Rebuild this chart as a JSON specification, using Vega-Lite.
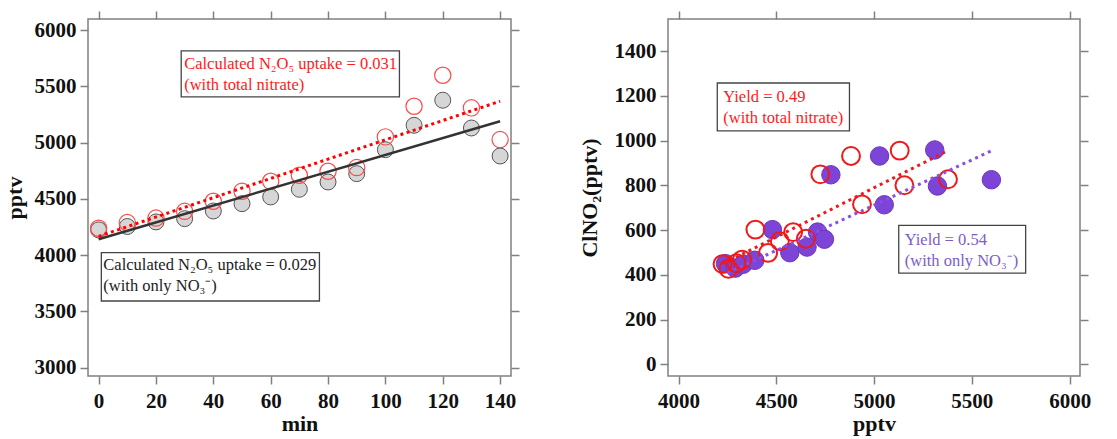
{
  "$schema": "https://vega.github.io/schema/vega-lite/v6.json",
  "background": "white",
  "padding": {"left": 2, "top": 9, "right": 0, "bottom": 2},
  "bounds": "flush",
  "spacing": 157,
  "config": {
    "font": "Liberation Serif",
    "view": {"stroke": "#808080", "strokeWidth": 1.5},
    "axis": {
      "grid": false, "domain": false, "format": "d",
      "tickColor": "#808080", "tickWidth": 1.5, "tickSize": 8,
      "labelFont": "Liberation Serif", "labelFontWeight": "bold", "labelFontSize": 21, "labelColor": "#111111",
      "titleFont": "Liberation Serif", "titleFontWeight": "bold", "titleFontSize": 22, "titleColor": "#111111"
    }
  },
  "datasets": {
    "left_no3": [
      {"min": 0, "pptv": 4225}, {"min": 10, "pptv": 4255}, {"min": 20, "pptv": 4296}, {"min": 30, "pptv": 4325},
      {"min": 40, "pptv": 4393}, {"min": 50, "pptv": 4458}, {"min": 60, "pptv": 4518}, {"min": 70, "pptv": 4586},
      {"min": 80, "pptv": 4651}, {"min": 90, "pptv": 4725}, {"min": 100, "pptv": 4938}, {"min": 110, "pptv": 5155},
      {"min": 120, "pptv": 5378}, {"min": 130, "pptv": 5131}, {"min": 140, "pptv": 4882}
    ],
    "left_total": [
      {"min": 0, "pptv": 4240}, {"min": 10, "pptv": 4290}, {"min": 20, "pptv": 4330}, {"min": 30, "pptv": 4390},
      {"min": 40, "pptv": 4480}, {"min": 50, "pptv": 4569}, {"min": 60, "pptv": 4657}, {"min": 70, "pptv": 4711},
      {"min": 80, "pptv": 4746}, {"min": 90, "pptv": 4779}, {"min": 100, "pptv": 5052}, {"min": 110, "pptv": 5324},
      {"min": 120, "pptv": 5600}, {"min": 130, "pptv": 5310}, {"min": 140, "pptv": 5028}
    ],
    "left_fit_no3": [{"min": 0, "pptv": 4142}, {"min": 140, "pptv": 5191}],
    "left_fit_total": [{"min": 0, "pptv": 4168}, {"min": 140, "pptv": 5369}],
    "right_no3": [
      {"n2o5": 4240, "clno2": 450}, {"n2o5": 4290, "clno2": 430}, {"n2o5": 4330, "clno2": 447}, {"n2o5": 4390, "clno2": 465},
      {"n2o5": 4480, "clno2": 602}, {"n2o5": 4569, "clno2": 499}, {"n2o5": 4657, "clno2": 524}, {"n2o5": 4711, "clno2": 591},
      {"n2o5": 4746, "clno2": 559}, {"n2o5": 4779, "clno2": 847}, {"n2o5": 5028, "clno2": 931}, {"n2o5": 5052, "clno2": 713},
      {"n2o5": 5310, "clno2": 958}, {"n2o5": 5324, "clno2": 797}, {"n2o5": 5600, "clno2": 825}
    ],
    "right_total": [
      {"n2o5": 4225, "clno2": 448}, {"n2o5": 4255, "clno2": 427}, {"n2o5": 4296, "clno2": 452}, {"n2o5": 4325, "clno2": 468},
      {"n2o5": 4393, "clno2": 602}, {"n2o5": 4458, "clno2": 498}, {"n2o5": 4518, "clno2": 550}, {"n2o5": 4586, "clno2": 591},
      {"n2o5": 4651, "clno2": 561}, {"n2o5": 4725, "clno2": 849}, {"n2o5": 4882, "clno2": 931}, {"n2o5": 4938, "clno2": 715},
      {"n2o5": 5131, "clno2": 955}, {"n2o5": 5155, "clno2": 800}, {"n2o5": 5378, "clno2": 827}
    ],
    "right_fit_total": [{"n2o5": 4230, "clno2": 450}, {"n2o5": 5370, "clno2": 952}],
    "right_fit_no3": [{"n2o5": 4250, "clno2": 408}, {"n2o5": 5605, "clno2": 956}]
  },
  "hconcat": [
    {
      "width": 423,
      "height": 357,
      "layer": [
        {
          "data": {"name": "left_no3"},
          "mark": {"type": "point", "shape": "circle", "filled": true, "fill": "#d6d6d6", "stroke": "#555555", "strokeWidth": 1, "size": 255, "opacity": 1},
          "encoding": {
            "x": {"field": "min", "type": "quantitative", "scale": {"domain": [-3.7, 143.8], "nice": false, "zero": false},
                  "axis": {"orient": "bottom", "values": [0, 20, 40, 60, 80, 100, 120, 140], "title": "min", "labelPadding": 6, "titlePadding": 2}},
            "y": {"field": "pptv", "type": "quantitative", "scale": {"domain": [2926, 6100], "nice": false, "zero": false},
                  "axis": {"orient": "left", "values": [3000, 3500, 4000, 4500, 5000, 5500, 6000], "title": "pptv", "labelPadding": 4, "titlePadding": 8}}
          }
        },
        {
          "data": {"name": "left_total"},
          "mark": {"type": "point", "shape": "circle", "filled": false, "stroke": "#ff4a4a", "strokeWidth": 1.2, "size": 265, "opacity": 1},
          "encoding": {
            "x": {"field": "min", "type": "quantitative", "axis": {"orient": "top", "values": [0, 20, 40, 60, 80, 100, 120, 140], "labels": false, "title": null}},
            "y": {"field": "pptv", "type": "quantitative", "axis": {"orient": "right", "values": [3000, 3500, 4000, 4500, 5000, 5500, 6000], "labels": false, "title": null}}
          }
        },
        {
          "data": {"name": "left_fit_no3"},
          "mark": {"type": "line", "color": "#333333", "strokeWidth": 2.5},
          "encoding": {
            "x": {"field": "min", "type": "quantitative", "axis": null},
            "y": {"field": "pptv", "type": "quantitative", "axis": null}
          }
        },
        {
          "data": {"name": "left_fit_total"},
          "mark": {"type": "line", "color": "#ff0000", "strokeWidth": 3, "strokeDash": [3, 3.5]},
          "encoding": {
            "x": {"field": "min", "type": "quantitative", "axis": null},
            "y": {"field": "pptv", "type": "quantitative", "axis": null}
          }
        },
        {
          "data": {"values": [{}]},
          "mark": {"type": "rect", "fill": "white", "stroke": "#444444", "strokeWidth": 1.3},
          "encoding": {
            "x": {"datum": 28.8, "type": "quantitative", "axis": null}, "x2": {"datum": 104.9},
            "y": {"datum": 5816, "type": "quantitative", "axis": null}, "y2": {"datum": 5407}
          }
        },
        {
          "data": {"values": [{}]},
          "mark": {"type": "text", "align": "left", "baseline": "alphabetic", "fontSize": 16.5, "lineHeight": 21, "color": "#ff1a1a", "dx": 3},
          "encoding": {
            "x": {"datum": 28.8, "type": "quantitative", "axis": null},
            "y": {"datum": 5659, "type": "quantitative", "axis": null},
            "text": {"value": ["Calculated N₂O₅ uptake = 0.031", "(with total nitrate)"]}
          }
        },
        {
          "data": {"values": [{}]},
          "mark": {"type": "rect", "fill": "white", "stroke": "#444444", "strokeWidth": 1.3},
          "encoding": {
            "x": {"datum": 0.95, "type": "quantitative", "axis": null}, "x2": {"datum": 77},
            "y": {"datum": 4023, "type": "quantitative", "axis": null}, "y2": {"datum": 3593}
          }
        },
        {
          "data": {"values": [{}]},
          "mark": {"type": "text", "align": "left", "baseline": "alphabetic", "fontSize": 16.5, "lineHeight": 21, "color": "#222222", "dx": 2},
          "encoding": {
            "x": {"datum": 0.95, "type": "quantitative", "axis": null},
            "y": {"datum": 3866, "type": "quantitative", "axis": null},
            "text": {"value": ["Calculated N₂O₅ uptake = 0.029", "(with only NO₃⁻)"]}
          }
        }
      ],
      "resolve": {"axis": {"x": "independent", "y": "independent"}}
    },
    {
      "width": 412,
      "height": 357,
      "layer": [
        {
          "data": {"name": "right_no3"},
          "mark": {"type": "point", "shape": "circle", "filled": true, "fill": "#7d44d8", "stroke": "#6a36bf", "strokeWidth": 1, "size": 340, "opacity": 1},
          "encoding": {
            "x": {"field": "n2o5", "type": "quantitative", "scale": {"domain": [3946, 6053], "nice": false, "zero": false},
                  "axis": {"orient": "bottom", "values": [4000, 4500, 5000, 5500, 6000], "title": "pptv", "labelPadding": 6, "titlePadding": 2}},
            "y": {"field": "clno2", "type": "quantitative", "scale": {"domain": [-52, 1543], "nice": false, "zero": false},
                  "axis": {"orient": "left", "values": [0, 200, 400, 600, 800, 1000, 1200, 1400], "title": "ClNO₂(pptv)", "labelPadding": 4, "titlePadding": 13}}
          }
        },
        {
          "data": {"name": "right_total"},
          "mark": {"type": "point", "shape": "circle", "filled": false, "stroke": "#f01818", "strokeWidth": 2, "size": 320, "opacity": 1},
          "encoding": {
            "x": {"field": "n2o5", "type": "quantitative", "axis": {"orient": "top", "values": [4000, 4500, 5000, 5500, 6000], "labels": false, "title": null}},
            "y": {"field": "clno2", "type": "quantitative", "axis": {"orient": "right", "values": [0, 200, 400, 600, 800, 1000, 1200, 1400], "labels": false, "title": null}}
          }
        },
        {
          "data": {"name": "right_fit_total"},
          "mark": {"type": "line", "color": "#f01818", "strokeWidth": 3, "strokeDash": [3, 4]},
          "encoding": {
            "x": {"field": "n2o5", "type": "quantitative", "axis": null},
            "y": {"field": "clno2", "type": "quantitative", "axis": null}
          }
        },
        {
          "data": {"name": "right_fit_no3"},
          "mark": {"type": "line", "color": "#8a50e6", "strokeWidth": 3, "strokeDash": [3, 4]},
          "encoding": {
            "x": {"field": "n2o5", "type": "quantitative", "axis": null},
            "y": {"field": "clno2", "type": "quantitative", "axis": null}
          }
        },
        {
          "data": {"values": [{}]},
          "mark": {"type": "rect", "fill": "white", "stroke": "#444444", "strokeWidth": 1.3},
          "encoding": {
            "x": {"datum": 4198, "type": "quantitative", "axis": null}, "x2": {"datum": 4874},
            "y": {"datum": 1257, "type": "quantitative", "axis": null}, "y2": {"datum": 1043}
          }
        },
        {
          "data": {"values": [{}]},
          "mark": {"type": "text", "align": "left", "baseline": "alphabetic", "fontSize": 16.5, "lineHeight": 21, "color": "#ff1a1a", "dx": 6},
          "encoding": {
            "x": {"datum": 4198, "type": "quantitative", "axis": null},
            "y": {"datum": 1172, "type": "quantitative", "axis": null},
            "text": {"value": ["Yield = 0.49", "(with total nitrate)"]}
          }
        },
        {
          "data": {"values": [{}]},
          "mark": {"type": "rect", "fill": "white", "stroke": "#444444", "strokeWidth": 1.3},
          "encoding": {
            "x": {"datum": 5126, "type": "quantitative", "axis": null}, "x2": {"datum": 5775},
            "y": {"datum": 621, "type": "quantitative", "axis": null}, "y2": {"datum": 408}
          }
        },
        {
          "data": {"values": [{}]},
          "mark": {"type": "text", "align": "left", "baseline": "alphabetic", "fontSize": 16.5, "lineHeight": 21, "color": "#7e5cc8", "dx": 6},
          "encoding": {
            "x": {"datum": 5126, "type": "quantitative", "axis": null},
            "y": {"datum": 535, "type": "quantitative", "axis": null},
            "text": {"value": ["Yield = 0.54", " (with only NO₃⁻)"]}
          }
        }
      ],
      "resolve": {"axis": {"x": "independent", "y": "independent"}}
    }
  ]
}
